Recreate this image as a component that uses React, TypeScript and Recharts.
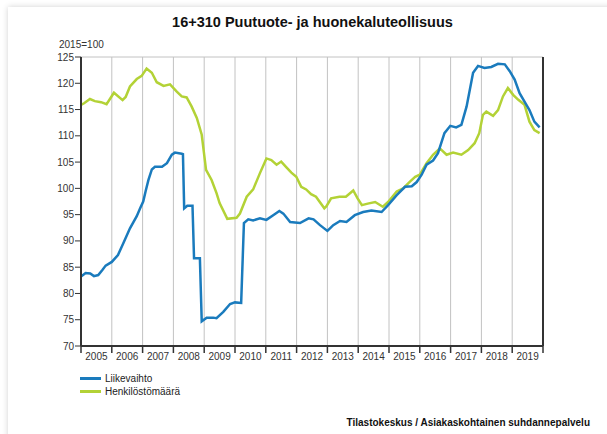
import { LineChart, Line, XAxis, YAxis, CartesianGrid } from "recharts";

// Liikevaihto (turnover), index 2015=100
const salesTime = [
  2005.0, 2005.15, 2005.3, 2005.42, 2005.56, 2005.7, 2005.8, 2006.0, 2006.2, 2006.37,
  2006.59, 2006.81, 2006.92, 2007.02, 2007.1, 2007.19, 2007.3, 2007.4, 2007.63, 2007.79,
  2007.95, 2008.05, 2008.27, 2008.31, 2008.35, 2008.45, 2008.62, 2008.67, 2008.86, 2008.92,
  2009.08, 2009.29, 2009.4, 2009.62, 2009.84, 2010.0, 2010.2, 2010.29, 2010.43, 2010.59,
  2010.81, 2011.02, 2011.24, 2011.44, 2011.57, 2011.79, 2012.11, 2012.39, 2012.55, 2012.76,
  2013.0, 2013.19, 2013.41, 2013.62, 2013.89, 2014.16, 2014.43, 2014.76, 2014.97, 2015.25,
  2015.52, 2015.74, 2015.9, 2016.06, 2016.22, 2016.43, 2016.59, 2016.8, 2016.99, 2017.18,
  2017.35, 2017.52, 2017.73, 2017.89, 2018.1, 2018.32, 2018.54, 2018.76, 2018.92, 2019.08,
  2019.24, 2019.4, 2019.56, 2019.72, 2019.89,
];
const salesIndex = [
  83.2, 83.9, 83.8, 83.3, 83.5, 84.5, 85.3, 86.0, 87.3, 89.5,
  92.4, 94.7, 96.2, 97.5, 99.5, 101.6, 103.6, 104.1, 104.1, 104.8,
  106.4, 106.8, 106.6, 106.5, 96.2, 96.7, 96.7, 86.7, 86.7, 74.7,
  75.4, 75.4, 75.3, 76.5, 78.0, 78.3, 78.2, 93.4, 94.1, 93.9,
  94.3, 94.0, 94.9, 95.7, 95.2, 93.6, 93.4, 94.3, 94.1, 93.0,
  91.9, 93.0, 93.8, 93.6, 94.9, 95.5, 95.8, 95.5, 96.8, 98.7,
  100.3, 100.4, 101.2, 102.6, 104.5, 105.3, 106.7, 110.5, 111.9, 111.6,
  112.1, 115.6, 122.0, 123.3, 122.9, 123.1, 123.7, 123.6, 122.3, 120.7,
  118.1, 116.5, 114.9, 112.7, 111.6,
];

// Henkilöstömäärä (personnel), index 2015=100
const staffTime = [
  2005.0, 2005.1, 2005.29, 2005.45, 2005.65, 2005.83, 2006.07, 2006.35, 2006.45, 2006.59,
  2006.81, 2006.97, 2007.13, 2007.3, 2007.46, 2007.68, 2007.89, 2008.11, 2008.27, 2008.43,
  2008.59, 2008.76, 2008.92, 2009.06, 2009.24, 2009.4, 2009.5, 2009.75, 2010.05, 2010.16,
  2010.38, 2010.59, 2010.81, 2011.02, 2011.18, 2011.35, 2011.5, 2011.67, 2011.83, 2011.99,
  2012.15, 2012.31, 2012.47, 2012.63, 2012.9, 2012.97, 2013.12, 2013.39, 2013.6, 2013.84,
  2013.98, 2014.12, 2014.31, 2014.55, 2014.8, 2014.97, 2015.25, 2015.46, 2015.68, 2015.85,
  2016.0, 2016.22, 2016.43, 2016.65, 2016.87, 2017.08, 2017.35, 2017.57, 2017.78, 2017.93,
  2018.05, 2018.16, 2018.38, 2018.54, 2018.7, 2018.86, 2019.03, 2019.19, 2019.4, 2019.56,
  2019.72, 2019.89,
];
const staffIndex = [
  115.9, 116.2, 117.0, 116.6, 116.4, 116.0, 118.2, 116.8, 117.4, 119.4,
  120.8, 121.4, 122.8, 122.0, 120.2, 119.5, 119.8, 118.4, 117.5, 117.3,
  115.6, 113.4, 110.2, 103.5, 101.6, 99.1, 97.2, 94.2, 94.4, 95.2,
  98.4, 99.8, 102.9, 105.7, 105.4, 104.5, 105.1, 104.0, 103.0, 102.2,
  100.3, 99.8, 98.9, 98.4, 96.2, 96.6, 98.1, 98.4, 98.4, 99.6,
  98.1, 96.8, 97.1, 97.4, 96.5, 97.4, 99.4, 100.0, 101.3, 102.2,
  102.6, 104.8, 106.4, 107.6, 106.4, 106.8, 106.4, 107.3, 108.6, 110.5,
  114.0, 114.6, 113.8, 114.9, 117.5, 119.1, 117.8, 116.9, 115.9, 112.7,
  111.1, 110.5,
];

const yearTicks = [
  2005, 2006, 2007, 2008, 2009, 2010, 2011, 2012, 2013, 2014, 2015, 2016, 2017, 2018, 2019, 2020,
];
const indexTicks = [70, 75, 80, 85, 90, 95, 100, 105, 110, 115, 120, 125];

const seriesNames = ["Liikevaihto", "Henkilöstömäärä"];
const seriesColors = ["#1a7bbd", "#b3d236"];

const salesData = salesTime.map((t, i) => ({ t, v: salesIndex[i] }));
const staffData = staffTime.map((t, i) => ({ t, v: staffIndex[i] }));

const FONT = "Arial, 'Liberation Sans', sans-serif";
const AXIS = "#333";
const PLOT_LEFT = 81;
const PLOT_RIGHT = 543;
const HALF_YEAR = (PLOT_RIGHT - PLOT_LEFT) / (yearTicks.length - 1) / 2;

function YearTick(props: any) {
  const { x, y, payload } = props;
  if (payload.value >= 2020) return null;
  return (
    <text x={x + HALF_YEAR} y={y} dy="0.71em" textAnchor="middle" fill="#333" fontSize={10} fontFamily={FONT}>
      {payload.value}
    </text>
  );
}

export default function App() {
  return (
    <div
      style={{
        position: "absolute",
        left: 0,
        top: 0,
        width: 607,
        height: 434,
        overflow: "hidden",
        background: "#fff",
        fontFamily: FONT,
      }}
    >
      <div
        style={{
          position: "absolute",
          left: 8,
          top: 7,
          width: 640,
          height: 460,
          background: "#fff",
          boxShadow: "0 0 6px rgba(0,0,0,0.18)",
        }}
      />
      <div
        style={{
          position: "absolute",
          left: 0,
          width: 607,
          top: 14,
          textAlign: "center",
          paddingLeft: 18,
          boxSizing: "border-box",
          fontSize: 14.5,
          fontWeight: "bold",
          color: "#111",
        }}
      >
        16+310 Puutuote- ja huonekaluteollisuus
      </div>
      <div style={{ position: "absolute", left: 59, top: 39, fontSize: 10, color: "#333" }}>2015=100</div>

      <div style={{ position: "absolute", left: 0, top: 0 }}>
        <LineChart width={607} height={434} margin={{ top: 57, right: 24, bottom: 58, left: 41 }}>
          <CartesianGrid stroke="#c2c2c2" strokeWidth={1} />
          <XAxis
            dataKey="t"
            type="number"
            domain={[2005, 2020]}
            ticks={yearTicks}
            interval={0}
            height={30}
            tick={<YearTick />}
            tickSize={7}
            tickMargin={0}
            axisLine={{ stroke: AXIS, strokeWidth: 2 }}
            tickLine={{ stroke: AXIS, strokeWidth: 1.5 }}
            allowDataOverflow
          />
          <YAxis
            yAxisId="left"
            domain={[70, 125]}
            ticks={indexTicks}
            interval={0}
            width={40}
            tickSize={6}
            tickMargin={1}
            axisLine={{ stroke: AXIS, strokeWidth: 2 }}
            tickLine={{ stroke: AXIS }}
            tick={{ fill: "#333", fontSize: 10, fontFamily: FONT }}
          />
          <YAxis
            yAxisId="right"
            orientation="right"
            domain={[70, 125]}
            ticks={indexTicks}
            interval={0}
            width={40}
            tickSize={6}
            tickMargin={1}
            axisLine={{ stroke: AXIS, strokeWidth: 2 }}
            tickLine={{ stroke: AXIS }}
            tick={{ fill: "#333", fontSize: 10, fontFamily: FONT }}
          />
          <Line
            yAxisId="left"
            data={staffData}
            dataKey="v"
            name={seriesNames[1]}
            stroke={seriesColors[1]}
            strokeWidth={2.5}
            dot={false}
            type="linear"
            isAnimationActive={false}
          />
          <Line
            yAxisId="left"
            data={salesData}
            dataKey="v"
            name={seriesNames[0]}
            stroke={seriesColors[0]}
            strokeWidth={2.5}
            dot={false}
            type="linear"
            isAnimationActive={false}
          />
        </LineChart>
      </div>

      <div style={{ position: "absolute", left: 80, top: 372, fontSize: 10, color: "#222" }}>
        {seriesNames.map((name, i) => (
          <div key={name} style={{ display: "flex", alignItems: "center", height: 13 }}>
            <span
              style={{
                display: "inline-block",
                width: 21,
                height: 3,
                background: seriesColors[i],
                marginRight: 4,
              }}
            />
            {name}
          </div>
        ))}
      </div>

      <div
        style={{
          position: "absolute",
          right: 17,
          top: 417,
          fontSize: 10,
          fontWeight: "bold",
          color: "#111",
        }}
      >
        Tilastokeskus / Asiakaskohtainen suhdannepalvelu
      </div>
    </div>
  );
}
